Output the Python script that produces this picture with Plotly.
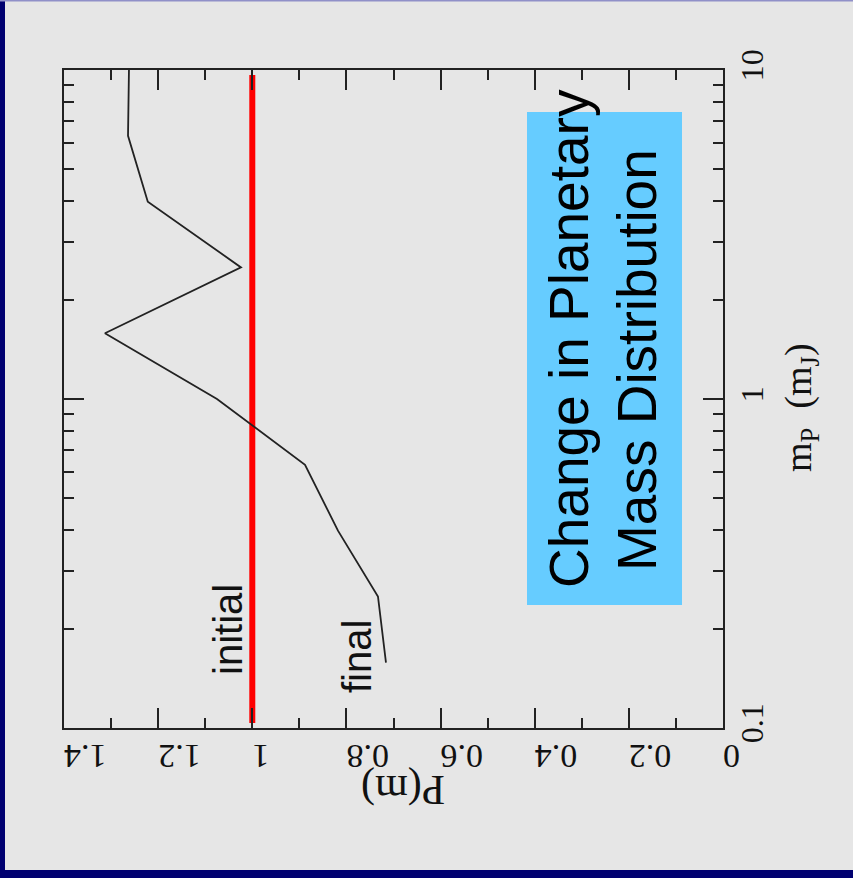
import plotly.graph_objects as go

# ---- data ----
mass_final = [0.158, 0.251, 0.398, 0.631, 1.0, 1.585, 2.512, 3.98, 6.31, 10.0]
p_final = [0.716, 0.733, 0.818, 0.888, 1.075, 1.313, 1.024, 1.222, 1.264, 1.262]
mass_initial = [0.1035, 9.66]
p_initial = [1.0, 1.0]

p_ticks = [0, 0.2, 0.4, 0.6, 0.8, 1.0, 1.2, 1.4]
p_ticklabels = ["0", "0.2", "0.4", "0.6", "0.8", "1", "1.2", "1.4"]
m_ticks = [0.1, 1, 10]
m_ticklabels = ["0.1", "1", "10"]
m_minor = [0.2, 0.3, 0.4, 0.5, 0.6, 0.7, 0.8, 0.9, 2, 3, 4, 5, 6, 7, 8, 9]

W, H = 853, 878
L, R, T, B = 64, 723, 70, 728


def px(x):
    return (x - L) / (R - L)


def py(y):
    return (B - y) / (B - T)


SERIF = "Liberation Serif"
SANS = "Liberation Sans"

fig = go.Figure()
fig.add_trace(go.Scatter(x=p_initial, y=mass_initial, mode="lines",
                         line=dict(color="#ff0000", width=6), showlegend=False))
fig.add_trace(go.Scatter(x=p_final, y=mass_final, mode="lines",
                         line=dict(color="#222222", width=1.8), showlegend=False))

fig.update_layout(
    width=W, height=H,
    margin=dict(l=L, r=W - R, t=T, b=H - B),
    paper_bgcolor="#e6e6e6", plot_bgcolor="#e6e6e6",
    showlegend=False,
    xaxis=dict(range=[1.4, 0], tickvals=p_ticks, ticktext=p_ticklabels,
               tickangle=180, ticks="inside", ticklen=20, tickwidth=2,
               tickcolor="#222", showline=True, linecolor="#222", linewidth=2,
               mirror="ticks", showgrid=False, zeroline=False,
               ticklabelstandoff=8,
               tickfont=dict(family=SERIF, size=34, color="#111"),
               minor=dict(dtick=0.1, ticks="inside", ticklen=10, tickwidth=2,
                          tickcolor="#222", showgrid=False)),
    yaxis=dict(type="log", range=[-1, 1], side="right", tickvals=m_ticks,
               ticktext=m_ticklabels, tickangle=-90, ticks="inside",
               ticklen=20, tickwidth=2, tickcolor="#222", showline=True,
               linecolor="#222", linewidth=2, mirror="ticks", showgrid=False,
               zeroline=False,
               tickfont=dict(family=SERIF, size=32, color="#111"),
               minor=dict(tickvals=m_minor, ticks="inside", ticklen=10,
                          tickwidth=2, tickcolor="#222", showgrid=False)),
)

shapes = [
    dict(type="rect", xref="paper", yref="paper", x0=px(527), x1=px(682),
         y0=py(605), y1=py(112), fillcolor="#66ccff", line=dict(width=0),
         layer="below"),
    dict(type="rect", xref="paper", yref="paper", x0=px(0), x1=px(5),
         y0=py(878), y1=py(0), fillcolor="#000070", line=dict(width=0)),
    dict(type="rect", xref="paper", yref="paper", x0=px(0), x1=px(853),
         y0=py(878), y1=py(870), fillcolor="#000070", line=dict(width=0)),
    dict(type="rect", xref="paper", yref="paper", x0=px(0), x1=px(853),
         y0=py(1.5), y1=py(0), fillcolor="#9090c8", line=dict(width=0)),
]
fig.update_layout(shapes=shapes)

ann = [
    dict(text="initial", x=px(228), y=py(630), textangle=-90,
         font=dict(family=SANS, size=40, color="#111")),
    dict(text="final", x=px(357), y=py(657), textangle=-90,
         font=dict(family=SANS, size=40, color="#111")),
    dict(text="Change in Planetary", x=px(569), y=py(339), textangle=-90,
         font=dict(family=SANS, size=55, color="#000")),
    dict(text="Mass Distribution", x=px(637), y=py(360), textangle=-90,
         font=dict(family=SANS, size=55, color="#000")),
    dict(text="P(m)", x=px(403), y=py(790), textangle=180,
         font=dict(family=SERIF, size=42, color="#111")),
    dict(text="m<sub>P</sub>  (m<sub>J</sub>)", x=px(801), y=py(408),
         textangle=-90, font=dict(family=SERIF, size=38, color="#111")),
]
for a in ann:
    a.update(xref="paper", yref="paper", showarrow=False,
             xanchor="center", yanchor="middle")
fig.update_layout(annotations=ann)

fig.write_html("out.html")
